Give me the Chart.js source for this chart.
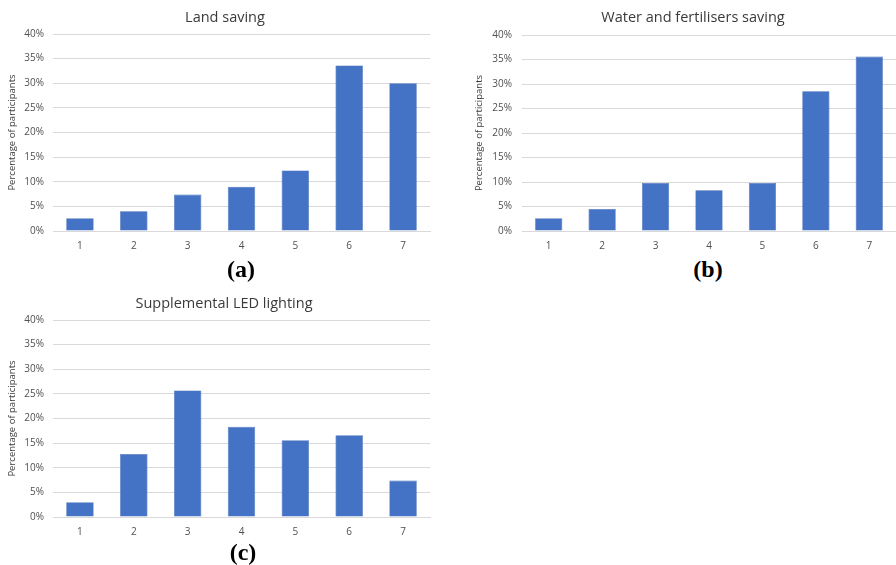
<!DOCTYPE html>
<html>
<head>
<meta charset="utf-8">
<script src="https://cdn.jsdelivr.net/npm/chart.js@4.4.1/dist/chart.umd.min.js"></script>
<style>
  html, body { margin: 0; padding: 0; background: #ffffff; }
  #page { position: relative; width: 896px; height: 565px; overflow: hidden; background: #ffffff; }
  canvas { position: absolute; }
  .panel-title {
    position: absolute; width: 300px; text-align: center;
    font-family: "Open Sans", "Liberation Sans", sans-serif; font-size: 14.5px;
    line-height: 20px; color: #3a3a3a; white-space: nowrap;
  }
  .caption {
    position: absolute; width: 60px; text-align: center;
    font-family: "Liberation Serif", "Times New Roman", serif; font-weight: bold;
    font-size: 24px; line-height: 26px; color: #000000;
  }
</style>
</head>
<body>
<div id="page">
  <canvas id="chartA" width="440" height="255" style="left:0px; top:0px;"></canvas>
  <canvas id="chartB" width="436" height="255" style="left:460px; top:0px;"></canvas>
  <canvas id="chartC" width="440" height="255" style="left:0px; top:285px;"></canvas>

  <div class="panel-title" style="left:75px; top:7px;">Land saving</div>
  <div class="panel-title" style="left:543px; top:7px;">Water and fertilisers saving</div>
  <div class="panel-title" style="left:74px; top:293px;">Supplemental LED lighting</div>

  <div class="caption" style="left:211px; top:256px;">(a)</div>
  <div class="caption" style="left:678px; top:256px;">(b)</div>
  <div class="caption" style="left:213px; top:539px;">(c)</div>
</div>

<script>
// Likert scale points (1 = strongly disagree ... 7 = strongly agree)
const categories = ['1', '2', '3', '4', '5', '6', '7'];

// Share of participants choosing each point, in percent
const landSaving = [2.6, 4.0, 7.4, 9.0, 12.3, 33.6, 30.0];
const waterFertiliserSaving = [2.6, 4.5, 9.8, 8.3, 9.8, 28.5, 35.6];
const ledLighting = [3.0, 12.8, 25.7, 18.3, 15.6, 16.6, 7.4];

// Value axis: 0% to 40% in steps of 5%
const yMin = 0;
const yMax = 40;
const yStep = 5;
const yAxisTitle = 'Percentage of participants';

const barColor = '#4472C4';
const gridColor = '#d9d9d9';
const tickColor = '#505050';

function buildChart(canvasId, values, layout) {
  const ctx = document.getElementById(canvasId).getContext('2d');
  return new Chart(ctx, {
    type: 'bar',
    data: {
      labels: categories,
      datasets: [{
        data: values,
        backgroundColor: barColor,
        borderColor: '#3d67b3',
        borderWidth: 0.6,
        borderSkipped: 'bottom',
        barPercentage: 0.51,
        categoryPercentage: 1.0
      }]
    },
    options: {
      responsive: false,
      animation: false,
      devicePixelRatio: 1,
      layout: { padding: { top: layout.top, right: layout.right, left: 0, bottom: 0 } },
      plugins: {
        legend: { display: false },
        title: { display: false },
        tooltip: { enabled: false }
      },
      scales: {
        x: {
          grid: { display: false, drawTicks: false },
          border: { display: true, color: gridColor, width: 1 },
          ticks: {
            color: tickColor,
            padding: 9,
            font: { family: 'Open Sans', size: 10 }
          },
          afterFit: (scale) => { scale.height = layout.xHeight; }
        },
        y: {
          min: yMin,
          max: yMax,
          grid: { color: gridColor, lineWidth: 1, drawTicks: false },
          border: { display: false },
          ticks: {
            stepSize: yStep,
            color: tickColor,
            padding: layout.tickPad,
            font: { family: 'Open Sans', size: 10 },
            callback: (v) => v + '%'
          },
          title: {
            display: true,
            text: yAxisTitle,
            color: '#3a3a3a',
            padding: { top: layout.titlePad, bottom: 0 },
            font: { family: 'Open Sans', size: 9.5 }
          },
          afterFit: (scale) => { scale.width = layout.yWidth; }
        }
      }
    }
  });
}

buildChart('chartA', landSaving, { top: 34, right: 10, xHeight: 24, yWidth: 53, tickPad: 9, titlePad: 7 });
buildChart('chartB', waterFertiliserSaving, { top: 35, right: 0, xHeight: 24, yWidth: 62, tickPad: 10, titlePad: 14 });
buildChart('chartC', ledLighting, { top: 35, right: 10, xHeight: 23, yWidth: 53, tickPad: 9, titlePad: 7 });
</script>
</body>
</html>
